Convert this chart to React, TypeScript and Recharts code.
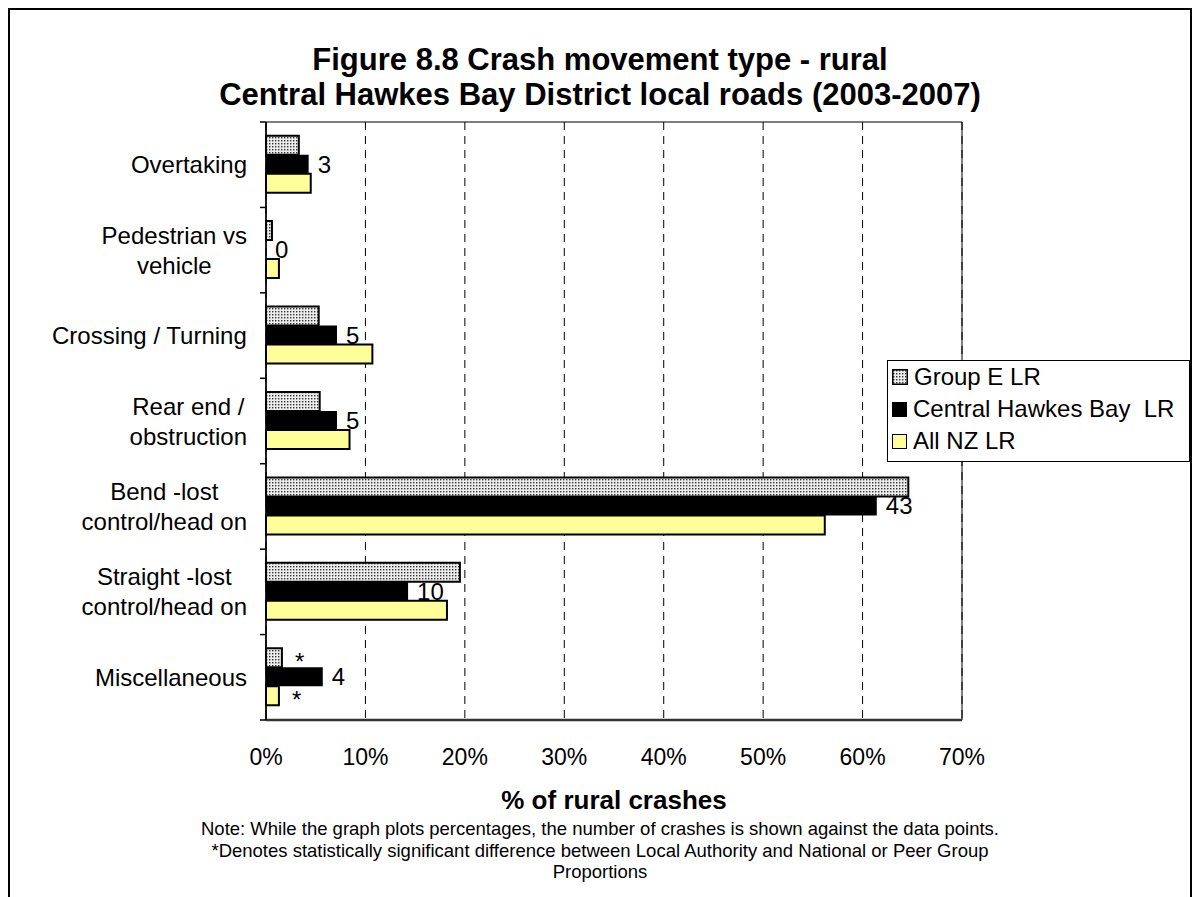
import React from 'react';
import { BarChart, Bar, XAxis, YAxis, CartesianGrid, ReferenceArea, LabelList } from 'recharts';

const FONT = "'Liberation Sans', Arial, Helvetica, sans-serif";

const categories = [
  'Overtaking',
  'Pedestrian vs\nvehicle',
  'Crossing / Turning',
  'Rear end /\nobstruction',
  'Bend -lost\ncontrol/head on',
  'Straight -lost\ncontrol/head on',
  'Miscellaneous',
];
const groupE = [3.3, 0.6, 5.3, 5.4, 64.6, 19.5, 1.6];
const centralHB = [4.29, 0, 7.14, 7.14, 61.43, 14.29, 5.71];
const allNZ = [4.5, 1.3, 10.7, 8.4, 56.2, 18.2, 1.3];
const crashCounts = [3, 0, 5, 5, 43, 10, 4];
const groupEMarks = ['', '', '', '', '', '', '*'];
const allNZMarks = ['', '', '', '', '', '', '*'];
const xTicks = [0, 10, 20, 30, 40, 50, 60, 70];
const seriesNames = ['Group E LR', 'Central Hawkes Bay  LR', 'All NZ LR'];

const data = categories.map((cat, i) => ({
  cat,
  g: groupE[i],
  c: centralHB[i],
  n: allNZ[i],
  count: String(crashCounts[i]),
  gm: groupEMarks[i],
  nm: allNZMarks[i],
}));

const CHART_W = 1180;
const CHART_H = 885;
const M_TOP = 112;
const PLOT_LEFT = 256;
const PLOT_RIGHT = 952;
const PLOT_BOTTOM = 710;
const BAND = (PLOT_BOTTOM - M_TOP) / categories.length;
const LABEL_RIGHT = 237;
const CAT_FONT = 24;

let measureCtx: CanvasRenderingContext2D | null = null;
const measure = (t: string) => {
  if (!measureCtx) {
    const c = document.createElement('canvas');
    measureCtx = c.getContext('2d');
  }
  if (!measureCtx) return t.length * CAT_FONT * 0.5;
  measureCtx.font = `${CAT_FONT}px 'Liberation Sans'`;
  return measureCtx.measureText(t).width;
};

const CatTick = (props: any) => {
  const { y, payload, index } = props;
  const lines = String(payload.value).split('\n');
  const widths = lines.map(measure);
  const blockW = Math.max(...widths);
  const cx = LABEL_RIGHT - blockW / 2;
  const lh = 30;
  const startY = y - ((lines.length - 1) * lh) / 2;
  return (
    <g>
      <line x1={PLOT_LEFT - 6} x2={PLOT_LEFT} y1={y - BAND / 2} y2={y - BAND / 2} stroke="#000" strokeWidth={1.5} />
      {index === categories.length - 1 && (
        <line x1={PLOT_LEFT - 6} x2={PLOT_LEFT} y1={y + BAND / 2} y2={y + BAND / 2} stroke="#000" strokeWidth={1.5} />
      )}
      {lines.map((l, i) => (
        <text
          key={i}
          x={cx}
          y={startY + i * lh + 8.5}
          textAnchor="middle"
          fontSize={CAT_FONT}
          fontFamily={FONT}
          fill="#000"
        >
          {l}
        </text>
      ))}
    </g>
  );
};

const countLabel = (p: any) => {
  const { x, y, width, height, value } = p;
  if (value === undefined || value === null || value === '') return null;
  const w = Number(width) || 0;
  return (
    <text x={Number(x) + w + 9} y={Number(y) + Number(height) / 2 + 8.5} fontSize={24} fontFamily={FONT} fill="#000">
      {value}
    </text>
  );
};

const markLabel = (p: any) => {
  const { x, y, width, height, value } = p;
  if (!value) return null;
  return (
    <text x={x + width + 13} y={y + height / 2 + 12} fontSize={24} fontFamily={FONT} fill="#000">
      {value}
    </text>
  );
};

const swatchStyle = (fill: string): React.CSSProperties => ({
  width: 13,
  height: 13,
  border: '1.5px solid #000',
  background: fill,
  marginRight: 6,
  flex: 'none',
});

export default function App() {
  return (
    <div
      style={{
        position: 'relative',
        width: 1184,
        height: 905,
        border: '2px solid #000',
        boxSizing: 'border-box',
        background: '#fff',
        fontFamily: FONT,
        color: '#000',
      }}
    >
      <style>{`body{overflow:hidden}`}</style>
      <svg width={0} height={0} style={{ position: 'absolute' }}>
        <defs>
          <pattern id="dots" width={3} height={3} patternUnits="userSpaceOnUse">
            <rect width={3} height={3} fill="#ececec" />
            <rect x={1} y={1} width={1.4} height={1.4} fill="#333" />
          </pattern>
        </defs>
      </svg>
      <div
        style={{
          position: 'absolute',
          left: 0,
          top: 32,
          width: CHART_W,
          textAlign: 'center',
          fontWeight: 'bold',
          fontSize: 31,
          lineHeight: '35px',
        }}
      >
        Figure 8.8 Crash movement type - rural
        <br />
        Central Hawkes Bay District local roads (2003-2007)
      </div>
      <div style={{ position: 'absolute', left: 0, top: 0 }}>
        <BarChart
          width={CHART_W}
          height={CHART_H}
          data={data}
          layout="vertical"
          margin={{ top: M_TOP, right: CHART_W - PLOT_RIGHT, left: 0, bottom: CHART_H - PLOT_BOTTOM - 60 }}
          barCategoryGap="16%"
          barGap={0}
        >
          <CartesianGrid horizontal={false} stroke="#000" strokeDasharray="8 6" />
          <XAxis
            type="number"
            domain={[0, 70]}
            ticks={xTicks}
            interval={0}
            tickFormatter={(v: number) => `${v}%`}
            tickSize={0}
            tickMargin={29}
            height={60}
            axisLine={{ stroke: '#333', strokeWidth: 2.5 }}
            tick={{ fontSize: 23, fill: '#000', fontFamily: FONT }}
          />
          <YAxis
            type="category"
            dataKey="cat"
            width={PLOT_LEFT}
            tickLine={false}
            axisLine={{ stroke: '#000', strokeWidth: 1.5 }}
            tick={<CatTick />}
            interval={0}
          />
          <ReferenceArea x1={0} x2={70} fill="none" stroke="#000" strokeWidth={1} ifOverflow="visible" />
          <Bar dataKey="g" name={seriesNames[0]} fill="url(#dots)" stroke="#000" strokeWidth={2} isAnimationActive={false}>
            <LabelList dataKey="gm" content={markLabel} />
          </Bar>
          <Bar dataKey="c" name={seriesNames[1]} fill="#000" minPointSize={0.01} isAnimationActive={false}>
            <LabelList dataKey="count" content={countLabel} />
          </Bar>
          <Bar dataKey="n" name={seriesNames[2]} fill="#ffff99" stroke="#000" strokeWidth={2} isAnimationActive={false}>
            <LabelList dataKey="nm" content={markLabel} />
          </Bar>
        </BarChart>
      </div>
      <div
        style={{
          position: 'absolute',
          left: 877,
          top: 350,
          width: 303,
          height: 102,
          border: '1px solid #000',
          boxSizing: 'border-box',
          background: '#fff',
          fontSize: 24,
        }}
      >
        {[
          { name: seriesNames[0], fill: 'url(#dots)', pattern: true },
          { name: seriesNames[1], fill: '#000', pattern: false },
          { name: seriesNames[2], fill: '#ffff99', pattern: false },
        ].map((it, i) => (
          <div key={i} style={{ display: 'flex', alignItems: 'center', height: 32, paddingLeft: 4, whiteSpace: 'pre' }}>
            {it.pattern ? (
              <svg width={16} height={16} style={{ marginRight: 6, flex: 'none' }}>
                <rect x={0.75} y={0.75} width={14.5} height={14.5} fill="url(#dots)" stroke="#000" strokeWidth={1.5} />
              </svg>
            ) : (
              <div style={swatchStyle(it.fill)} />
            )}
            <span>{it.name}</span>
          </div>
        ))}
      </div>
      <div
        style={{
          position: 'absolute',
          left: PLOT_LEFT,
          top: 775,
          width: PLOT_RIGHT - PLOT_LEFT,
          textAlign: 'center',
          fontWeight: 'bold',
          fontSize: 26,
          lineHeight: '30px',
        }}
      >
        % of rural crashes
      </div>
      <div
        style={{
          position: 'absolute',
          left: 0,
          top: 808,
          width: CHART_W,
          textAlign: 'center',
          fontSize: 18.5,
          lineHeight: '21.5px',
        }}
      >
        Note: While the graph plots percentages, the number of crashes is shown against the data points.
        <br />
        *Denotes statistically significant difference between Local Authority and National or Peer Group
        <br />
        Proportions
      </div>
    </div>
  );
}
